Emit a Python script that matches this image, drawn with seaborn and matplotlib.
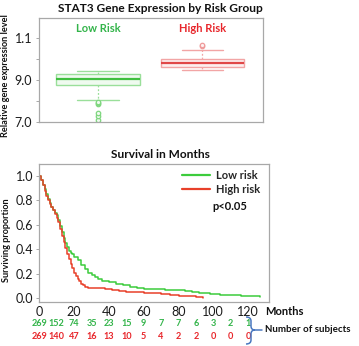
import matplotlib
matplotlib.use("Agg")
import matplotlib.pyplot as plt
from matplotlib.path import Path
from matplotlib.patches import PathPatch
import seaborn as sns
import pandas as pd

# ---------------- data ----------------
groups = ["Low Risk", "High Risk"]
# box summary: lower whisker, Q1, median, Q3, upper whisker
low_box = [8.04, 8.77, 9.05, 9.29, 9.45]
high_box = [9.47, 9.65, 9.81, 9.99, 10.47]
low_outliers = [7.10, 7.27, 7.43, 7.83, 7.88, 7.97]
high_outliers = [10.65, 10.70]
expr_ticks = [7, 8, 9, 10, 11]
expr_ticklabels = ["7.0", "", "9.0", "", "1.1"]

low_months = [0, 1, 2, 3, 4, 5, 6, 7, 8, 9, 10, 11, 12, 13, 14, 15, 16, 17, 18, 19,
              20, 22, 24, 26, 28, 30, 32, 34, 36, 38, 40, 44, 48, 52, 56, 60, 66,
              72, 78, 84, 88, 92, 98, 104, 110, 116, 120, 127]
low_surv = [1.0, 0.97, 0.93, 0.89, 0.85, 0.81, 0.78, 0.75, 0.72, 0.70, 0.68, 0.64,
            0.59, 0.54, 0.49, 0.45, 0.42, 0.39, 0.37, 0.36, 0.34, 0.31, 0.27, 0.24,
            0.21, 0.19, 0.17, 0.155, 0.145, 0.14, 0.13, 0.115, 0.105, 0.095, 0.085,
            0.078, 0.072, 0.068, 0.065, 0.06, 0.05, 0.045, 0.035, 0.03, 0.03, 0.02,
            0.015, 0.008]
high_months = [0, 1, 2, 3, 4, 5, 6, 7, 8, 9, 10, 11, 12, 13, 14, 15, 16, 17, 18, 19,
               20, 21, 22, 23, 24, 25, 26, 27, 28, 30, 34, 38, 42, 46, 50, 55, 60,
               65, 70, 75, 80, 85, 90, 94]
high_surv = [1.0, 0.97, 0.93, 0.88, 0.84, 0.80, 0.77, 0.75, 0.72, 0.69, 0.66, 0.62,
             0.57, 0.51, 0.46, 0.41, 0.36, 0.32, 0.28, 0.25, 0.21, 0.18, 0.16, 0.14,
             0.12, 0.105, 0.095, 0.09, 0.088, 0.085, 0.08, 0.075, 0.07, 0.063, 0.055,
             0.05, 0.045, 0.04, 0.033, 0.025, 0.02, 0.015, 0.01, 0.005]
surv_labels = ["Low risk", "High risk"]
risk_months = [0, 10, 20, 30, 40, 50, 60, 70, 80, 90, 100, 110, 120]
low_at_risk = [269, 152, 74, 35, 23, 15, 9, 7, 7, 6, 3, 2, 1]
high_at_risk = [269, 140, 47, 16, 13, 10, 5, 4, 2, 2, 0, 0, 0]
month_ticks = [0, 20, 40, 60, 80, 100, 120]
surv_ticks = [0.0, 0.2, 0.4, 0.6, 0.8, 1.0]

# ---------------- style ----------------
sns.set_style("white")
plt.rcParams["font.family"] = ["Lato", "DejaVu Sans"]
GREEN_TXT = "#33b44a"
RED_TXT = "#e8262b"
GREEN_LINE = "#3ccc3c"
RED_LINE = "#e8402a"
FRAME = "#a8a8a8"

W, H = 359, 346
fig = plt.figure(figsize=(W / 100, H / 100), dpi=100)

def fx(px):
    return px / W

def fy(py):
    return 1 - py / H

# ---------------- top: box plot ----------------
ax1 = fig.add_axes([fx(38.5), fy(121.7), fx(263) - fx(38.5), fy(18.3) - fy(121.7)])
stats = []
for name, b, outl in [(groups[0], low_box, low_outliers), (groups[1], high_box, high_outliers)]:
    stats.append(dict(label=name, whislo=b[0], q1=b[1], med=b[2], q3=b[3], whishi=b[4], fliers=outl))

box_cols = [("#9adf9a", "#effaef", "#3fbf3f", "#7fd67f"), ("#f2a5a5", "#fdefef", "#e04848", "#ef9a9a")]
for i, (st, (edge, fill, med, fl)) in enumerate(zip(stats, box_cols)):
    ax1.bxp([st], positions=[i], widths=0.8, patch_artist=True, showfliers=True,
            boxprops=dict(facecolor=fill, edgecolor=edge, linewidth=1.0),
            medianprops=dict(color=med, linewidth=1.6),
            whiskerprops=dict(color=edge, linewidth=0.9, linestyle=(0, (1.5, 1.5))),
            capprops=dict(color=edge, linewidth=1.0),
            capwidths=0.4,
            flierprops=dict(marker="o", markersize=3.2, markerfacecolor=fill,
                            markeredgecolor=fl, markeredgewidth=0.9))
ax1.set_xlim(-0.57, 1.58)
ax1.set_ylim(7.0, 11.97)
ax1.set_xticks([])
ax1.set_yticks(expr_ticks)
ax1.set_yticklabels(expr_ticklabels)
ax1.text(0, 11.5, groups[0], color=GREEN_TXT, fontsize=8, fontweight="bold", ha="center", va="center")
ax1.text(1, 11.5, groups[1], color=RED_TXT, fontsize=8, fontweight="bold", ha="center", va="center")
fig.text(fx(160), fy(8), "STAT3 Gene Expression by Risk Group", fontsize=8.6,
         fontweight="bold", ha="center", va="center", color="#111111")
fig.text(fx(5.5), fy(76), "Relative gene expression level", rotation=90, fontsize=6.6,
         fontweight="bold", ha="center", va="center", color="#111111")

# ---------------- bottom: survival ----------------
ax2 = fig.add_axes([fx(39.3), fy(301.7), fx(269) - fx(39.3), fy(164) - fy(301.7)])
df = pd.concat([
    pd.DataFrame({"month": low_months, "surv": low_surv, "group": surv_labels[0]}),
    pd.DataFrame({"month": high_months, "surv": high_surv, "group": surv_labels[1]}),
])
sns.lineplot(data=df, x="month", y="surv", hue="group", palette=[GREEN_LINE, RED_LINE],
             estimator=None, drawstyle="steps-post", linewidth=1.1, ax=ax2)
ax2.set_xlim(0, 132)
ax2.set_ylim(-0.028, 1.098)
ax2.set_xticks(month_ticks)
ax2.set_yticks(surv_ticks)
ax2.set_yticklabels([f"{t:.1f}" for t in surv_ticks])
ax2.set_xlabel("")
ax2.set_ylabel("")
leg = ax2.legend(loc="upper left", bbox_to_anchor=(0.6, 0.99), frameon=False,
                 prop=dict(weight="bold", size=8), handlelength=2.6, handletextpad=0.5,
                 labelspacing=0.25, borderaxespad=0)
for h in leg.get_lines():
    h.set_linewidth(1.6)
ax2.text(0.83, 0.69, "p<0.05", transform=ax2.transAxes, fontsize=8, fontweight="bold",
         ha="center", va="center", color="#111111")
fig.text(fx(160), fy(154), "Survival in Months", fontsize=8.6, fontweight="bold",
         ha="center", va="center", color="#111111")
fig.text(fx(6.5), fy(240), "Surviving proportion", rotation=90, fontsize=6.6,
         fontweight="bold", ha="center", va="center", color="#111111")

trans = ax2.get_xaxis_transform()
for m, a, b in zip(risk_months, low_at_risk, high_at_risk):
    ax2.text(m, -0.157, str(a), transform=trans, color=GREEN_TXT, fontsize=6.6,
             fontweight="bold", ha="center", va="center", clip_on=False)
    ax2.text(m, -0.254, str(b), transform=trans, color=RED_TXT, fontsize=6.6,
             fontweight="bold", ha="center", va="center", clip_on=False)
fig.text(fx(265), fy(311.7), "Months", fontsize=8, fontweight="bold", ha="left",
         va="center", color="#111111")
fig.text(fx(265), fy(329.5), "Number of subjects", fontsize=7.0, fontweight="bold",
         ha="left", va="center", color="#111111")

# curly brace (annotation)
bx = lambda p: (fx(p[0]), fy(p[1]))
pts = [(246, 317), (251, 317), (251, 321), (251, 326), (251, 330), (255, 330),
       (251, 330), (251, 334), (251, 340), (251, 344), (246, 344)]
codes = [Path.MOVETO, Path.CURVE3, Path.CURVE3, Path.LINETO, Path.CURVE3, Path.CURVE3,
         Path.CURVE3, Path.CURVE3, Path.LINETO, Path.CURVE3, Path.CURVE3]
brace = PathPatch(Path([bx(p) for p in pts], codes), transform=fig.transFigure,
                  fill=False, edgecolor="#4a78c0", linewidth=1.1)
fig.patches.append(brace)
fig.add_artist(plt.Line2D([fx(255), fx(262)], [fy(330), fy(330)], color="#4a78c0",
                          linewidth=1.1, transform=fig.transFigure))

for ax in (ax1, ax2):
    for s in ax.spines.values():
        s.set_color(FRAME)
        s.set_linewidth(0.9)
    ax.tick_params(axis="both", which="both", length=2.5, width=0.7, color=FRAME,
                   labelsize=9, labelcolor="#1a1a1a", pad=2, left=True, bottom=True)
ax1.tick_params(bottom=False)
ax2.tick_params(axis="x", length=0, pad=3)

fig.savefig("out.png", dpi=100)
